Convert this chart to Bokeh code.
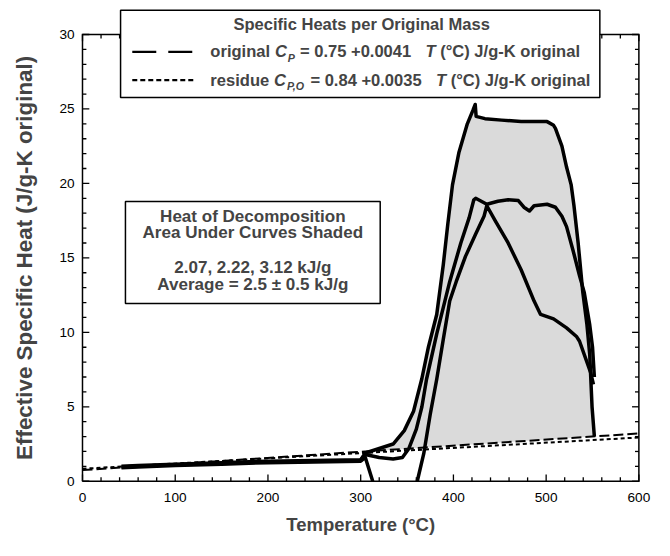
import math
from bokeh.plotting import figure
from bokeh.models import Range1d, BoxAnnotation, Label, Arrow
from bokeh.core.properties import value
from bokeh.embed import file_html
from bokeh.resources import INLINE

NaN = float("nan")

# ---------------- data ----------------
x_major = [0, 100, 200, 300, 400, 500, 600]
x_minor_step = 20
y_major = [0, 5, 10, 15, 20, 25, 30]
y_minor_step = 1
x_labels = [str(v) for v in x_major]
y_labels = [str(v) for v in y_major]

base_T = [0, 600]
orig_coef = [0.75, 0.0041]      # Cp = a + b T  (original)
res_coef = [0.84, 0.0035]       # Cp,o = a + b T (residue)
cp_original = [orig_coef[0] + orig_coef[1] * t for t in base_T]
cp_residue = [res_coef[0] + res_coef[1] * t for t in base_T]

run_A_T = [42, 60, 100, 150, 200, 250, 300, 305, 320, 335, 347, 357, 366, 373, 382, 389,
           394, 399, 406, 415, 421, 423.5, 424.5, 434, 452, 473, 501, 508, 510, 517, 522,
           527, 530, 534.5, 539.5, 544, 547, 549.5, 552]
run_A_V = [1.0, 1.05, 1.15, 1.25, 1.35, 1.4, 1.45, 1.9, 2.2, 2.5, 3.4, 4.7, 6.9, 9.0, 11.2, 14.5,
           17.3, 19.9, 22.1, 24.0, 24.9, 25.3, 24.5, 24.35, 24.25, 24.15, 24.15, 23.9, 23.7, 22.5, 21.1,
           19.9, 18.5, 16.0, 12.7, 10.5, 8.5, 5.0, 3.0]

run_B_T = [42, 60, 100, 150, 200, 250, 300, 305, 320, 335, 345, 352, 360, 366, 371, 382, 396,
           408, 417, 422, 424, 436, 448, 459, 470, 476, 482, 487, 501, 510, 517, 522, 529,
           536, 541, 547, 550, 552]
run_B_V = [0.95, 1.0, 1.1, 1.2, 1.3, 1.35, 1.4, 1.8, 1.6, 1.5, 1.6, 2.2, 3.5, 5.0, 6.85, 9.9, 13.4,
           16.0, 17.7, 18.9, 19.0, 18.6, 18.8, 18.9, 18.85, 18.4, 18.15, 18.5, 18.6, 18.4, 17.8, 17.1, 15.5,
           13.8, 12.7, 10.5, 9.0, 7.0]

# curve C dips below the axis between ~313 and ~361 °C (off scale there)
run_C_T = [42, 60, 100, 150, 200, 250, 300, 305, 313, NaN, 361, 368, 375, 382, 389, 396,
           403, 413, 424, 433, 436, 445, 459, 473, 487, 494, 508, 522, 533, 536, 548, 551]
run_C_V = [0.9, 0.95, 1.05, 1.15, 1.25, 1.3, 1.35, 1.6, 0.0, NaN, 0.0, 1.85, 4.5, 6.85, 9.5, 12.1,
           13.4, 15.1, 16.6, 17.8, 18.5, 17.5, 16.0, 14.2, 12.1, 11.2, 10.9, 10.3, 9.7, 9.4, 7.3, 6.5]

x_title = "Temperature (°C)"
y_title = "Effective Specific Heat (J/g-K original)"
legend_title = "Specific Heats per Original Mass"
legend_rows = [
    ["original", "C", "P", "= 0.75 +0.0041", "T", "(°C) J/g-K original"],
    ["residue", "C", "P,O", "= 0.84 +0.0035", "T", "(°C) J/g-K original"],
]
note_lines = ["Heat of Decomposition", "Area Under Curves Shaded", "",
              "2.07, 2.22, 3.12 kJ/g", "Average = 2.5 ± 0.5 kJ/g"]

# ---------------- layout ----------------
# Positions are given on a 670x556 design grid; the 654x540 canvas shows
# that whole grid, slightly scaled.
FONT = "Liberation Sans"
FIG_W, FIG_H = 654, 540
REF_W, REF_H = 670, 556
SX, SY = FIG_W / REF_W, FIG_H / REF_H
S = (SX + SY) / 2
IMG_L, IMG_R, IMG_T, IMG_B = 84, 654, 35, 495     # axes box in design grid
X0, X1, Y0, Y1 = x_major[0], x_major[-1], y_major[0], y_major[-1]
PXX = (IMG_R - IMG_L) / (X1 - X0)
PXY = (IMG_B - IMG_T) / (Y1 - Y0)


def px_x(ix):
    return (ix - IMG_L) / PXX + X0


def px_y(iy):
    return (IMG_B - iy) / PXY + Y0


def fs(size):
    return f"{size * S:.2f}px"


p = figure(width=FIG_W, height=FIG_H, output_backend="svg", toolbar_location=None,
           x_axis_type=None, y_axis_type=None,
           x_range=Range1d(px_x(0), px_x(REF_W)), y_range=Range1d(px_y(REF_H), px_y(0)),
           min_border_left=0, min_border_right=0, min_border_top=0, min_border_bottom=0)
p.grid.visible = False
p.outline_line_color = None
p.background_fill_color = "white"
p.border_fill_color = "white"

# ---------------- shading + curves ----------------
shade_T = [t for t in run_A_T if t >= 305]
shade_V = [v for t, v in zip(run_A_T, run_A_V) if t >= 305]
lo = lambda t: orig_coef[0] + orig_coef[1] * t
p.patch(shade_T + [shade_T[-1], shade_T[0]], shade_V + [lo(shade_T[-1]), lo(shade_T[0])],
        fill_color="#dadada", line_color=None)

p.line(base_T, cp_original, line_color="black", line_width=2, line_dash="10 4")
p.line(base_T, cp_residue, line_color="black", line_width=2, line_dash="4 3")

for T, V in ((run_A_T, run_A_V), (run_B_T, run_B_V), (run_C_T, run_C_V)):
    p.line(T, V, line_color="black", line_width=3.5, line_join="round")

# ---------------- axes box, ticks, tick labels ----------------
MAJ, MIN = 7, 4
p.line([X0, X1, X1, X0, X0], [Y0, Y0, Y1, Y1, Y0], line_color="black", line_width=1.5,
       line_join="miter")

xt = list(range(X0, X1 + 1, x_minor_step))
xl = [(MAJ if t in x_major else MIN) / PXY for t in xt]
p.segment(x0=xt, y0=[Y0] * len(xt), x1=xt, y1=[Y0 + d for d in xl], line_color="black", line_width=1.3)
p.segment(x0=xt, y0=[Y1] * len(xt), x1=xt, y1=[Y1 - d for d in xl], line_color="black", line_width=1.3)
yt = list(range(Y0, Y1 + 1, y_minor_step))
yl = [(MAJ if t in y_major else MIN) / PXX for t in yt]
p.segment(x0=[X0] * len(yt), y0=yt, x1=[X0 + d for d in yl], y1=yt, line_color="black", line_width=1.3)
p.segment(x0=[X1] * len(yt), y0=yt, x1=[X1 - d for d in yl], y1=yt, line_color="black", line_width=1.3)

p.text(x=x_major, y=[Y0] * len(x_major), text=x_labels, y_offset=17 * SY, text_align="center",
       text_baseline="middle", text_font=value(FONT), text_font_size=fs(14), text_color="black")
p.text(x=[X0] * len(y_major), y=y_major, text=y_labels, x_offset=-8 * SX, text_align="right",
       text_baseline="middle", text_font=value(FONT), text_font_size=fs(14), text_color="black")

p.add_layout(Label(x=px_x(369), y=px_y(540), text=x_title, text_font=FONT, text_font_size=fs(19),
                   text_font_style="bold", text_align="center", text_baseline="middle"))
p.add_layout(Label(x=px_x(25), y=(Y0 + Y1) / 2, text=y_title, angle=math.pi / 2, text_font=FONT,
                   text_font_size=fs(23), text_font_style="bold", text_align="center",
                   text_baseline="middle"))

# ---------------- legend box ----------------
W = {' ': 278, '(': 333, ')': 333, '+': 584, ',': 278, '-': 333, '.': 278, '/': 278, '=': 584,
     '°': 400, 'C': 722, 'J': 556, 'K': 722, 'O': 778, 'P': 667, 'T': 611, 'g': 611, 'a': 556,
     'd': 611, 'e': 556, 'i': 278, 'l': 278, 'n': 611, 'o': 611, 'r': 389, 's': 556, 'u': 611}


def tw(s, size):
    return sum(W.get(c, 556) for c in s) * size / 1000.0


def box(b):
    return BoxAnnotation(left=px_x(b["L"]), right=px_x(b["R"]), top=px_y(b["T"]), bottom=px_y(b["B"]),
                         fill_color="white", fill_alpha=1, line_color="black", line_alpha=1,
                         line_width=1.5)


LB = dict(L=123, T=10, R=614, B=100)
p.add_layout(box(LB))
p.add_layout(Label(x=px_x(370), y=px_y(25), text=legend_title, text_font=FONT, text_font_size=fs(17),
                   text_font_style="bold", text_align="center", text_baseline="middle"))

FS, SUB = 17, 11
row_y = [53, 82]
dashes = ["24 12", "5 3"]
for row, ry, dash in zip(legend_rows, row_y, dashes):
    p.add_layout(Arrow(end=None, x_start=px_x(135), x_end=px_x(199), y_start=px_y(ry), y_end=px_y(ry),
                       line_color="black", line_width=2.2, line_dash=dash))
    cx = 215
    word, c, sub, eq, t, unit = row
    pieces = [(word, "bold", FS, 0, tw(word + " ", FS)),
              (c, "bold italic", FS, 0, tw(c, FS) + 1),
              (sub, "bold italic", SUB, 6, tw(sub + " ", SUB) + 2),
              (eq, "bold", FS, 0, tw(eq + "   ", FS)),
              (t, "bold italic", FS, 0, tw(t + " ", FS)),
              (unit, "bold", FS, 0, 0)]
    for txt, style, size, dy, adv in pieces:
        p.add_layout(Label(x=px_x(cx), y=px_y(ry + dy), text=txt, text_font=FONT,
                           text_font_size=fs(size), text_font_style=style,
                           text_align="left", text_baseline="middle"))
        cx += adv

# ---------------- note box ----------------
NB = dict(L=128, T=207, R=389, B=312)
p.add_layout(box(NB))
note_y = [222, 239, 257, 275, 292]
for txt, ny in zip(note_lines, note_y):
    if txt:
        p.add_layout(Label(x=px_x(258.5), y=px_y(ny), text=txt, text_font=FONT, text_font_size=fs(17.5),
                           text_font_style="bold", text_align="center", text_baseline="middle"))

open("out.html", "w").write(file_html(p, INLINE))
